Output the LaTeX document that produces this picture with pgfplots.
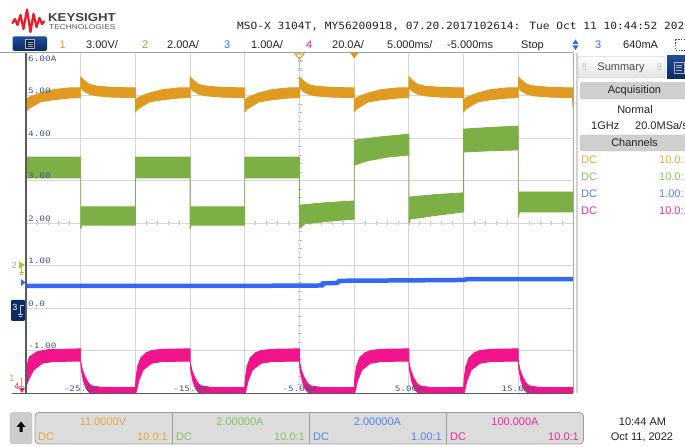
\documentclass[border=0pt]{standalone}
\usepackage{pgfplots}
\pgfplotsset{compat=1.18}
\usepackage{pgfplotstable}
\usepackage{fontspec}
\setmainfont{Liberation Sans}
\newfontfamily\mono{DejaVu Sans Mono}

\definecolor{chA}{HTML}{E09A1F}
\definecolor{chB}{HTML}{7CB044}
\definecolor{chC}{HTML}{3468F2}
\definecolor{chD}{HTML}{F2148C}
\definecolor{pA}{HTML}{E8A83C}
\definecolor{pB}{HTML}{8CBF62}
\definecolor{pC}{HTML}{5580F0}
\definecolor{pD}{HTML}{EE2A9E}
\definecolor{gridc}{HTML}{D6D6D6}
\definecolor{tickc}{HTML}{B8B8B8}
\definecolor{lab}{HTML}{3F5A86}
\definecolor{navy}{HTML}{0B2A63}
\definecolor{navyl}{HTML}{1E4C9A}
\definecolor{frm}{HTML}{5A5A5A}
\definecolor{boxg}{HTML}{DCDCDC}
\definecolor{boxb}{HTML}{9C9C9C}
\definecolor{ksred}{HTML}{E3202C}
\definecolor{txt}{HTML}{222222}

\newcommand\fs[1]{\fontsize{#1bp}{#1bp}\selectfont}
\newcommand\gl[1]{\scalebox{1.25}[1]{\mono\fs{7.5}#1}}

% channel 2 (green) envelope: upper edge forward, lower edge back
\pgfplotstableread{
t v
-30 3.55
-25 3.55
-25 2.38
-20 2.38
-20 3.55
-15 3.55
-15 2.38
-10 2.38
-10 3.55
-5 3.55
-5 2.42
-2.5 2.48
0 2.52
0 3.95
2.5 4.03
5 4.09
5 2.61
7.5 2.67
10 2.71
10 4.21
12.5 4.25
15 4.28
15 2.73
20 2.73
20 2.26
15.1 2.26
15.02 2.15
15 2.15
15 3.72
12.5 3.70
10 3.67
10 2.26
7.5 2.18
5.1 2.09
5.02 2.00
5 2.00
5 3.60
3 3.55
1 3.45
0 3.36
0 2.09
-2 2.05
-4.5 1.98
-4.95 1.88
-5 1.88
-5 3.06
-10 3.06
-10 1.95
-14.9 1.95
-14.97 1.87
-15 1.87
-15 3.06
-20 3.06
-20 1.95
-24.9 1.95
-24.97 1.87
-25 1.87
-25 3.06
-30 3.06
-30 2.45
}\greentab

% channel 1 (orange) envelope
\pgfplotstableread{
t v
-30 4.86
-29.8 4.95
-28.7 5.06
-27.5 5.14
-26 5.18
-25 5.18
-25 5.44
-24.7 5.36
-24.2 5.26
-23.5 5.22
-22 5.19
-20 5.18
-20 4.86
-19.8 4.95
-18.7 5.06
-17.5 5.14
-16 5.18
-15 5.18
-15 5.44
-14.7 5.36
-14.2 5.26
-13.5 5.22
-12 5.19
-10 5.18
-10 4.86
-9.8 4.95
-8.7 5.06
-7.5 5.14
-6 5.18
-5 5.18
-5 5.44
-4.7 5.36
-4.2 5.26
-3.5 5.22
-2 5.19
0 5.18
0 4.86
0.2 4.95
1.3 5.06
2.5 5.14
4 5.18
5 5.18
5 5.44
5.3 5.36
5.8 5.26
6.5 5.22
8 5.19
10 5.18
10 4.86
10.2 4.95
11.3 5.06
12.5 5.14
14 5.18
15 5.18
15 5.44
15.3 5.36
15.8 5.26
16.5 5.22
18 5.19
20 5.18
20 4.72
19.95 4.95
18 4.96
16.5 4.99
15.8 5.03
15.3 5.10
15 5.18
15 4.95
14 4.94
12.5 4.90
11.3 4.85
10.2 4.68
10 4.61
10 4.95
8 4.96
6.5 4.99
5.8 5.03
5.3 5.10
5 5.18
5 4.95
4 4.94
2.5 4.90
1.3 4.85
0.2 4.68
0 4.61
0 4.95
-2 4.96
-3.5 4.99
-4.2 5.03
-4.7 5.10
-5 5.18
-5 4.95
-6 4.94
-7.5 4.90
-8.7 4.85
-9.8 4.68
-10 4.61
-10 4.95
-12 4.96
-13.5 4.99
-14.2 5.03
-14.7 5.10
-15 5.18
-15 4.95
-16 4.94
-17.5 4.90
-18.7 4.85
-19.8 4.68
-20 4.61
-20 4.95
-22 4.96
-23.5 4.99
-24.2 5.03
-24.7 5.10
-25 5.18
-25 4.95
-26 4.94
-27.5 4.90
-28.7 4.85
-29.8 4.68
-30 4.61
}\orangetab

% channel 3 (blue)
\pgfplotstableread{
t v
-30 0.52
-10 0.52
-2.9 0.53
-2.9 0.58
-1.5 0.59
-1.4 0.64
5 0.65
10 0.66
10.4 0.68
20 0.68
}\bluetab

% channel 4 (pink) envelope
\pgfplotstableread{
t v
-30 -1.45
-29.7 -1.15
-29 -1.03
-28 -0.98
-25 -0.96
-25 -1.25
-24.85 -1.45
-24.6 -1.62
-24.3 -1.76
-24 -1.83
-23 -1.87
-20 -1.87
-19.95 -1.65
-19.8 -1.38
-19.5 -1.17
-19 -1.05
-18.5 -1.0
-17.5 -0.97
-15 -0.96
-15 -1.25
-14.85 -1.45
-14.6 -1.62
-14.3 -1.76
-14 -1.83
-13 -1.87
-10 -1.87
-9.95 -1.65
-9.8 -1.38
-9.5 -1.17
-9 -1.05
-8.5 -1.0
-7.5 -0.97
-5 -0.96
-5 -1.25
-4.85 -1.45
-4.6 -1.62
-4.3 -1.76
-4 -1.83
-3 -1.87
0 -1.87
0.05 -1.65
0.2 -1.38
0.5 -1.17
1 -1.05
1.5 -1.0
2.5 -0.97
5 -0.96
5 -1.25
5.15 -1.45
5.4 -1.62
5.7 -1.76
6 -1.83
7 -1.87
10 -1.87
10.05 -1.65
10.2 -1.38
10.5 -1.17
11 -1.05
11.5 -1.0
12.5 -0.97
15 -0.96
15 -1.25
15.15 -1.45
15.4 -1.62
15.7 -1.76
16 -1.83
17 -1.87
20 -1.87
20 -2.05
16 -2.05
15.5 -1.9
15.25 -1.72
15.05 -1.45
15 -1.25
12.5 -1.26
11.5 -1.30
10.7 -1.46
10.3 -1.72
10.1 -1.95
10 -2.05
6 -2.05
5.5 -1.9
5.25 -1.72
5.05 -1.45
5 -1.25
2.5 -1.26
1.5 -1.30
0.7 -1.46
0.3 -1.72
0.1 -1.95
0 -2.05
-4 -2.05
-4.5 -1.9
-4.75 -1.72
-4.95 -1.45
-5 -1.25
-7.5 -1.26
-8.5 -1.30
-9.3 -1.46
-9.7 -1.72
-9.9 -1.95
-10 -2.05
-14 -2.05
-14.5 -1.9
-14.75 -1.72
-14.95 -1.45
-15 -1.25
-17.5 -1.26
-18.5 -1.30
-19.3 -1.46
-19.7 -1.72
-19.9 -1.95
-20 -2.05
-24 -2.05
-24.5 -1.9
-24.75 -1.72
-24.95 -1.45
-25 -1.25
-27.5 -1.26
-28.5 -1.30
-29.3 -1.46
-29.7 -1.65
-30 -1.85
}\pinktab

\begin{document}
\begin{tikzpicture}
\useasboundingbox (0,0) rectangle (685bp,447bp);
\clip (0,0) rectangle (685bp,447bp);
\fill[white] (0,0) rectangle (685bp,447bp);
\begin{scope}[x=1bp,y=-1bp,yshift=447bp]
  \foreach \k in {1,...,39} \draw[tickc,line width=0.7bp] (297.5,{53+\k*8.5}) -- (301.5,{53+\k*8.5});
  \foreach \k in {1,...,49} \draw[tickc,line width=0.7bp] ({26+\k*10.94},221) -- ({26+\k*10.94},225);
\end{scope}

\begin{axis}[
  at={(26bp,54bp)}, anchor=south west,
  width=547bp, height=340bp, scale only axis,
  xmin=-30, xmax=20, ymin=-2, ymax=6,
  xtick={-25,-20,...,15}, ytick={-1,0,...,5},
  xticklabels={}, yticklabels={},
  major tick length=0pt,
  grid=major, major grid style={draw=gridc, line width=0.9bp},
  axis line style={draw=none},
  clip=true,
]
\addplot[draw=chA, fill=chA, line width=0.8bp, line join=round] table[x=t,y=v]{\orangetab};
\addplot[draw=chB, fill=chB, line width=0.8bp, line join=round] table[x=t,y=v]{\greentab};
\addplot[draw=chC, line width=4.5bp, line join=round] table[x=t,y=v]{\bluetab};
\addplot[draw=chD, fill=chD, line width=0.8bp, line join=round] table[x=t,y=v]{\pinktab};
\end{axis}

\begin{scope}[x=1bp,y=-1bp,yshift=447bp]
  % frame
  \draw[gray!75, line width=0.9bp] (0,52.5) -- (573,52.5);
  \draw[gray!70, line width=0.9bp] (573,53) -- (573,393);
  \draw[gray!35, line width=1.2bp] (577,53) -- (577,393);
  \draw[frm, line width=1.6bp] (26,53) -- (26,394);
  \draw[frm, line width=1.4bp] (12,393.5) -- (573,393.5);
  % grid labels
  \begin{scope}[every node/.style={inner sep=0pt, text=lab}]
    \node[anchor=base west] at (28,62) {\gl{6.00A}};
    \node[anchor=base west] at (28,94) {\gl{5.00}};
    \node[anchor=base west] at (28,136.5) {\gl{4.00}};
    \node[anchor=base west] at (28,179) {\gl{3.00}};
    \node[anchor=base west] at (28,221.5) {\gl{2.00}};
    \node[anchor=base west] at (28,264) {\gl{1.00}};
    \node[anchor=base west] at (28,306.5) {\gl{0.0}};
    \node[anchor=base west] at (28,349) {\gl{-1.00}};
    \node[anchor=base] at (80.7,392) {\gl{-25.0m}};
    \node[anchor=base] at (190.1,392) {\gl{-15.0m}};
    \node[anchor=base] at (299.5,392) {\gl{-5.00m}};
    \node[anchor=base] at (408.9,392) {\gl{5.00m}};
    \node[anchor=base] at (518.3,392) {\gl{15.0ms}};
  \end{scope}
  % top markers
  \draw[chA, line width=1bp] (295,54) -- (304,54) -- (299.5,59) -- cycle;
  \draw[gray!50, line width=0.8bp] (299.5,60) -- (299.5,68) (297.5,60) -- (301.5,60) (297.5,68) -- (301.5,68);
  \fill[chA] (350,53) -- (358.4,53) -- (354.2,58.5) -- cycle;
  % left channel markers
  \node[inner sep=0pt, text=pB] at (14.5,265) {\fs{9}2};
  \fill[chB!70!yellow] (19,261.5) -- (25,265) -- (19,268.5) -- cycle;
  \draw[chB!70!yellow, line width=0.8bp] (21,265) -- (21,272) (18.5,272) -- (23.5,272) (19.5,274) -- (22.5,274);
  \fill[chC] (21,279) -- (25.5,282.5) -- (21,286) -- cycle;
  \fill[navy, rounded corners=1bp] (11,300) rectangle (25,321);
  \node[inner sep=0pt, text=white] at (15,307) {\fs{9}3};
  \draw[white!80!blue, line width=0.7bp] (20.5,305) -- (20.5,314) (18,314) -- (23,314) (19,316) -- (22,316) (20.5,305) -- (24,305);
  \node[inner sep=0pt, text=chA] at (12,378) {\fs{9}1};
  \node[inner sep=0pt, text=chD] at (17,386) {\fs{9}4};
  \draw[chA, line width=0.8bp] (21,378) -- (21,386) (18.5,386) -- (23.5,386);
  \fill[chD] (19,388) -- (25,388) -- (22,393) -- cycle;
  % logo
  \draw[ksred, line width=2.3bp, line join=round, line cap=round]
     (12.5,23) -- (15,19) -- (17.5,25) -- (20.5,15) -- (23.5,29) -- (27,9.5) -- (30.5,32) -- (33.5,14) -- (36.5,27) -- (39.5,18) -- (42,24) -- (44,21.5);
  \node[anchor=base west, inner sep=0pt, text=black!75] at (48,21.5) {\scalebox{1.15}[1]{\fs{11.5}\bfseries KEYSIGHT}};
  \node[anchor=base west, inner sep=0pt, text=black!65] at (49,30) {\scalebox{1.19}[1]{\fs{7}TECHNOLOGIES}};
  % title
  \node[anchor=base west, inner sep=0pt, text=txt] at (237,30) {\scalebox{1.12}[1]{\mono\fs{10}MSO-X 3104T, MY56200918, 07.20.2017102614: Tue Oct 11 10:44:52 2022}};
  % toolbar
  \shade[top color=navyl, bottom color=navy, rounded corners=1.5bp] (12.5,36.5) rectangle (47,51);
  \draw[gray!60, line width=0.8bp, fill=navy!80!black] (25.5,39.5) rectangle (34.5,48);
  \draw[gray!70, line width=0.7bp] (27.5,42) -- (32.5,42) (27.5,44) -- (32.5,44) (27.5,46) -- (32.5,46);
  \begin{scope}[every node/.style={inner sep=0pt, anchor=base west}]
    \node[text=chA] at (59.5,49) {\fs{11}1};
    \node[text=txt] at (86,49) {\fs{11}3.00V/};
    \node[text=chB] at (142,49) {\fs{11}2};
    \node[text=txt] at (167,49) {\fs{11}2.00A/};
    \node[text=chC] at (224,49) {\fs{11}3};
    \node[text=txt] at (251,49) {\fs{11}1.00A/};
    \node[text=chD] at (306,49) {\fs{11}4};
    \node[text=txt] at (332,49) {\fs{11}20.0A/};
    \node[text=txt] at (387,49) {\fs{11}5.000ms/};
    \node[text=txt] at (447,49) {\fs{11}-5.000ms};
    \node[text=txt] at (521,49) {\fs{11}Stop};
    \node[text=chC] at (595,49) {\fs{11}3};
    \node[text=txt] at (623,49) {\fs{11}640mA};
  \end{scope}
  \fill[chC] (572.5,44) -- (575.5,39.5) -- (578.5,44) -- cycle;
  \fill[chC] (572.5,45.5) -- (575.5,50) -- (578.5,45.5) -- cycle;
  \draw[black!70, dashed, line width=0.7bp, dash pattern=on 1.5bp off 1.2bp] (675.5,39.5) rectangle (690,50);
  % right panel
  \shade[top color=white, bottom color=gray!22, draw=gray!55, rounded corners=2bp] (578,56.5) rectangle (665,78);
  \node[inner sep=0pt, text=black!70] at (621,67.5) {\fs{11}Summary};
  \foreach \dx in {0,2.5} \foreach \dy in {0,2.6,5.2} {
     \fill[gray] ({583+\dx},{64+\dy}) circle (0.55);
     \fill[gray] ({658+\dx},{64+\dy}) circle (0.55);
  }
  \shade[top color=navyl, bottom color=navy] (667,56) rectangle (690,79);
  \draw[gray!60, line width=0.8bp] (674,62) rectangle (684,73);
  \draw[gray!60, line width=0.7bp] (676,65) -- (682,65) (676,67.5) -- (682,67.5) (676,70) -- (682,70);
  \draw[gray!55, fill=gray!38, rounded corners=2.5bp] (580,82.5) rectangle (695,99);
  \node[inner sep=0pt, text=txt] at (634.5,91) {\fs{11}Acquisition};
  \node[inner sep=0pt, text=txt] at (635,109.5) {\fs{11}Normal};
  \node[inner sep=0pt, anchor=west, text=txt] at (591,126) {\fs{11}1GHz};
  \node[inner sep=0pt, anchor=west, text=txt] at (635,126) {\fs{11}20.0MSa/s};
  \draw[gray!55, fill=gray!38, rounded corners=2.5bp] (580,135) rectangle (695,151);
  \node[inner sep=0pt, text=txt] at (634.5,143) {\fs{11}Channels};
  \begin{scope}[every node/.style={inner sep=0pt, anchor=west}]
    \node[text=pA] at (581,159.5) {\fs{11}DC};  \node[text=pA] at (659,159.5) {\fs{11}10.0:1};
    \node[text=pB] at (581,176.5) {\fs{11}DC};  \node[text=pB] at (659,176.5) {\fs{11}10.0:1};
    \node[text=pC] at (581,193.5) {\fs{11}DC};  \node[text=pC] at (659,193.5) {\fs{11}1.00:1};
    \node[text=pD] at (581,210.5) {\fs{11}DC};  \node[text=pD] at (659,210.5) {\fs{11}10.0:1};
  \end{scope}
  % bottom bar
  \draw[gray!60, fill=gray!40, rounded corners=3bp] (10,412.5) rectangle (32,444);
  \fill[black] (21,421.5) -- (25.5,427) -- (22.5,427) -- (22.5,432) -- (19.5,432) -- (19.5,427) -- (16.5,427) -- cycle;
  \draw[boxb, fill=boxg, rounded corners=4bp, line width=0.9bp] (35,412.5) rectangle (583.5,444);
  \draw[boxb, line width=0.9bp] (172,412.5) -- (172,444) (309,412.5) -- (309,444) (446,412.5) -- (446,444);
  \begin{scope}[every node/.style={inner sep=0pt}]
    \node[anchor=base, text=pA] at (103,426) {\fs{11}11.0000V};
    \node[anchor=base, text=pB] at (240,426) {\fs{11}2.00000A};
    \node[anchor=base, text=pC] at (377.5,426) {\fs{11}2.00000A};
    \node[anchor=base, text=pD] at (515,426) {\fs{11}100.000A};
    \node[anchor=base west, text=pA] at (38,441) {\fs{11}DC};
    \node[anchor=base east, text=pA] at (168,441) {\fs{11}10.0:1};
    \node[anchor=base west, text=pB] at (176,441) {\fs{11}DC};
    \node[anchor=base east, text=pB] at (305,441) {\fs{11}10.0:1};
    \node[anchor=base west, text=pC] at (313,441) {\fs{11}DC};
    \node[anchor=base east, text=pC] at (442,441) {\fs{11}1.00:1};
    \node[anchor=base west, text=pD] at (450,441) {\fs{11}DC};
    \node[anchor=base east, text=pD] at (579,441) {\fs{11}10.0:1};
    \node[anchor=base, text=txt] at (642.5,425.5) {\fs{11}10:44 AM};
    \node[anchor=base, text=txt] at (642,441) {\fs{11}Oct 11, 2022};
  \end{scope}
\end{scope}
\end{tikzpicture}
\end{document}
